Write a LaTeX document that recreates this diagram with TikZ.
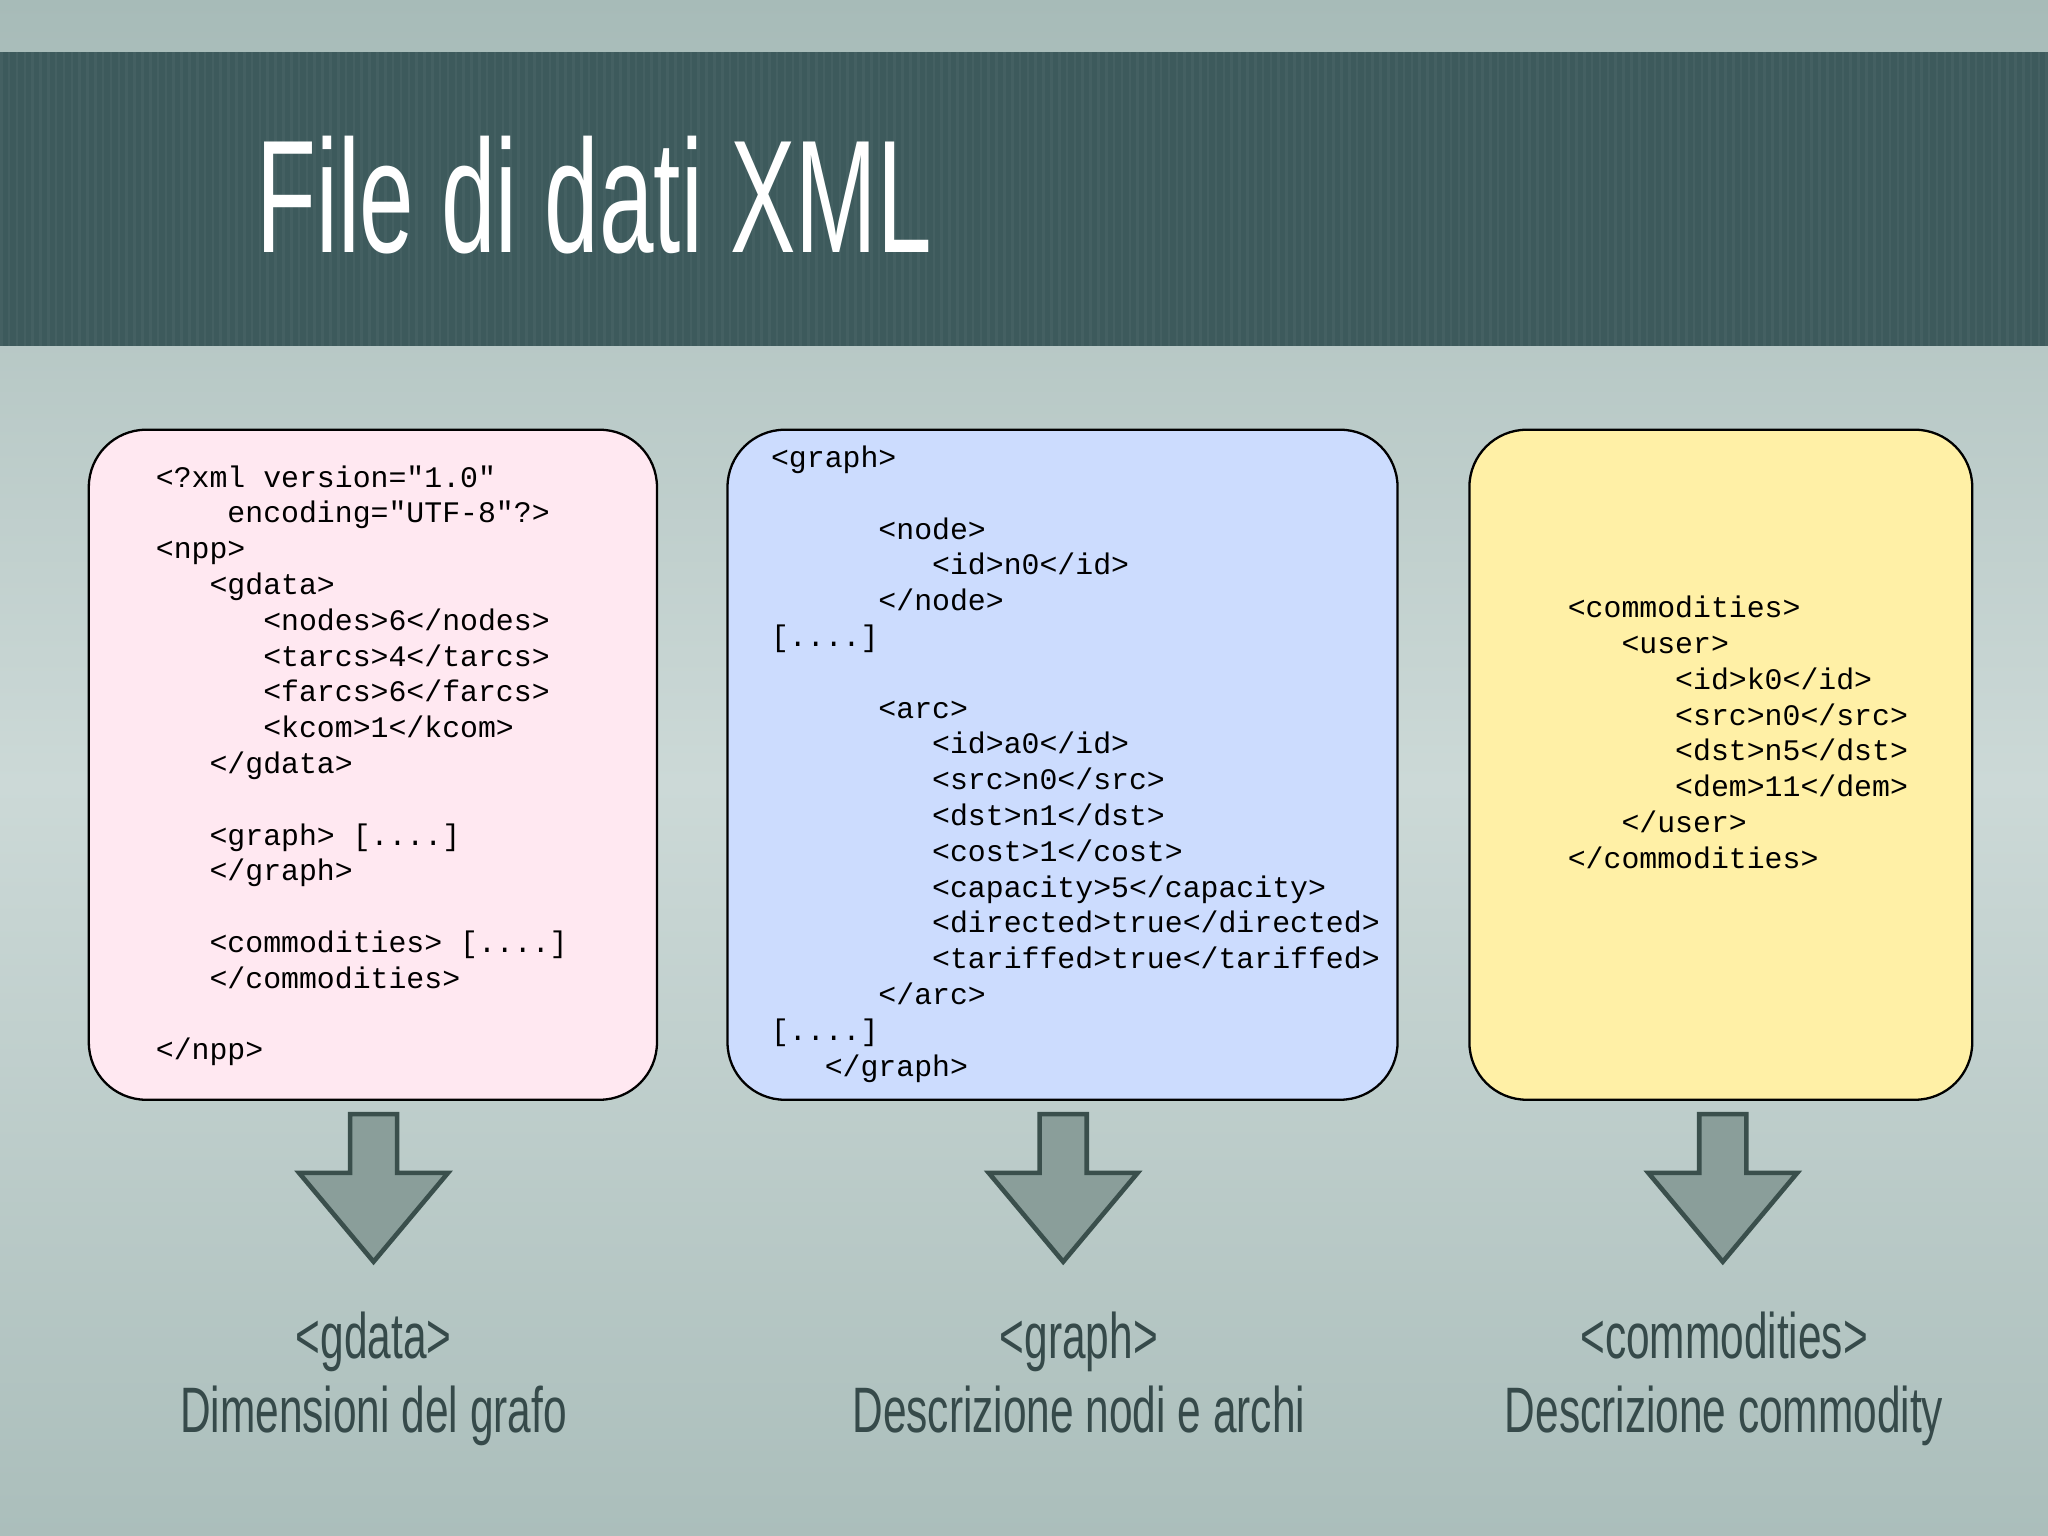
\documentclass[tikz,border=0pt]{standalone}
\usepackage{fontspec}
\setmainfont{Liberation Sans}
\setmonofont{Liberation Mono}
\usetikzlibrary{shadings}
\definecolor{bgtop}{HTML}{A7BBB8}
\definecolor{bgmid}{HTML}{CCD9D7}
\definecolor{band}{HTML}{3D5A5C}
\definecolor{pinkf}{HTML}{FFE8F1}
\definecolor{bluef}{HTML}{CCDCFE}
\definecolor{yelf}{HTML}{FFF0A6}
\definecolor{arrf}{HTML}{8A9E9A}
\definecolor{arrd}{HTML}{3A4F4C}
\definecolor{labc}{HTML}{364A4A}
\newcommand\ind[1]{\hspace*{\dimexpr #1\dimexpr0.6em\relax\relax}}
\newcommand\condensed[2]{\scalebox{#1}[1]{#2}}
\tikzset{
  codebox/.style={draw=black,line width=1pt,rounded corners=25},
  code/.style={anchor=north west,align=left,inner sep=0pt,font=\fontsize{13pt}{15.6pt}\selectfont\ttfamily},
  bigarrow/.style={draw=arrd,fill=arrf,line width=2pt,line join=miter},
  lab/.style={anchor=base,text=labc,font=\fontsize{28pt}{30pt}\selectfont,inner sep=0pt}
}
\begin{document}
\begin{tikzpicture}[x=0.02cm,y=-0.02cm]
\useasboundingbox (0,0) rectangle (1568,1176);
\shade[top color=bgtop,bottom color=bgmid] (0,0) rectangle (1568,600);
\shade[top color=bgmid,bottom color=bgtop!90!bgmid] (0,600) rectangle (1568,1176);
\fill[band] (0,40) rectangle (1568,265);
\foreach \i in {0,6,...,1566} \fill[white,opacity=0.04] (\i,40) rectangle (\i+2,265);
\node[anchor=base west,inner sep=0pt,text=white,font=\fontsize{70pt}{80pt}\selectfont] (title) at (196,193) {\condensed{0.61}{File di dati XML}};

\draw[codebox,fill=pinkf] (68,329) rectangle (503,842);
\draw[codebox,fill=bluef] (557,329) rectangle (1070,842);
\draw[codebox,fill=yelf] (1125,329) rectangle (1510,842);

\node[code] (c1) at (119,356) {<?xml version="1.0"\\
\ind{4}encoding="UTF-8"?>\\
<npp>\\
\ind{3}<gdata>\\
\ind{6}<nodes>6</nodes>\\
\ind{6}<tarcs>4</tarcs>\\
\ind{6}<farcs>6</farcs>\\
\ind{6}<kcom>1</kcom>\\
\ind{3}</gdata>\\
\mbox{}\\
\ind{3}<graph> [....]\\
\ind{3}</graph>\\
\mbox{}\\
\ind{3}<commodities> [....]\\
\ind{3}</commodities>\\
\mbox{}\\
</npp>};

\node[code] (c2) at (590,341) {<graph>\\
\mbox{}\\
\ind{6}<node>\\
\ind{9}<id>n0</id>\\
\ind{6}</node>\\
{[....]}\\
\mbox{}\\
\ind{6}<arc>\\
\ind{9}<id>a0</id>\\
\ind{9}<src>n0</src>\\
\ind{9}<dst>n1</dst>\\
\ind{9}<cost>1</cost>\\
\ind{9}<capacity>5</capacity>\\
\ind{9}<directed>true</directed>\\
\ind{9}<tariffed>true</tariffed>\\
\ind{6}</arc>\\
{[....]}\\
\ind{3}</graph>};

\node[code] (c3) at (1200,456) {<commodities>\\
\ind{3}<user>\\
\ind{6}<id>k0</id>\\
\ind{6}<src>n0</src>\\
\ind{6}<dst>n5</dst>\\
\ind{6}<dem>11</dem>\\
\ind{3}</user>\\
</commodities>};

\foreach \cx in {286,814,1319}{
  \draw[bigarrow] (\cx-18,853) -- (\cx+18,853) -- (\cx+18,898) -- (\cx+57,898) -- (\cx,966) -- (\cx-57,898) -- (\cx-18,898) -- cycle;
}

\node[lab] (l1a) at (286,1040) {\condensed{0.66}{<gdata>}};
\node[lab] (l1b) at (286,1097) {\condensed{0.66}{Dimensioni del grafo}};
\node[lab] (l2a) at (826,1040) {\condensed{0.66}{<graph>}};
\node[lab] (l2b) at (826,1097) {\condensed{0.66}{Descrizione nodi e archi}};
\node[lab] (l3a) at (1320,1040) {\condensed{0.66}{<commodities>}};
\node[lab] (l3b) at (1320,1097) {\condensed{0.66}{Descrizione commodity}};
\end{tikzpicture}
\end{document}
